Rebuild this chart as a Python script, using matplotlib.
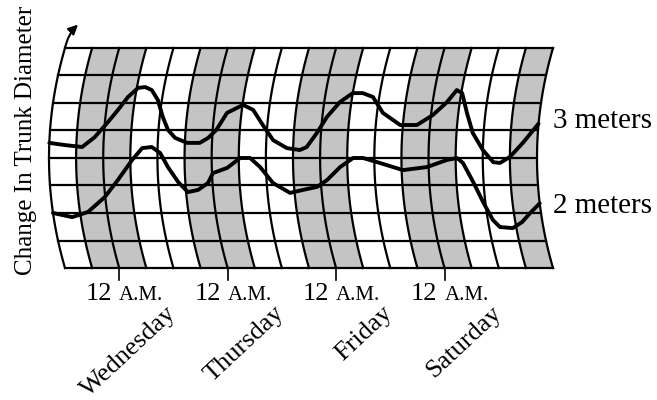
# Tree trunk diameter on a drum recorder chart
import numpy as np
import matplotlib
matplotlib.use('Agg')
import matplotlib.pyplot as plt
import matplotlib.transforms as mtransforms

plt.rcParams['font.family'] = ['Liberation Serif', 'DejaVu Serif']

# %%
# Data: hours since noon Tuesday, trunk trace in chart rows (0 = bottom row line)
hours_upper = [0, 3.5, 7.3, 10.0, 12.5, 14.6, 16.4, 18.3, 19.8, 21.4,
               23.1, 24.7, 26.1, 27.8, 30.5, 33.3, 35.1, 36.8, 38.8, 42.1,
               44.5, 47.0, 49.5, 52.6, 55.5, 57.0, 59.1, 61.0, 63.5, 66.0,
               68.2, 70.6, 73.3, 77.4, 81.1, 84.4, 87.2, 88.9, 90.2, 91.9,
               93.6, 96.0, 98.3, 99.8, 102.0, 104.8, 108.0]
diam_upper = [4.55, 4.47, 4.40, 4.76, 5.27, 5.75, 6.22, 6.55, 6.58, 6.47,
              6.11, 5.49, 5.02, 4.73, 4.55, 4.55, 4.73, 5.02, 5.64, 5.93,
              5.75, 5.20, 4.65, 4.36, 4.29, 4.40, 4.91, 5.49, 6.04, 6.36,
              6.36, 6.22, 5.64, 5.20, 5.20, 5.56, 6.04, 6.47, 6.36, 5.64,
              4.91, 4.29, 3.85, 3.82, 4.04, 4.55, 5.25]

hours_lower = [0, 4.1, 7.8, 11.9, 15.1, 18.4, 20.6, 22.7, 24.6, 26.3,
               28.4, 30.4, 32.7, 35.0, 36.2, 39.4, 42.3, 44.5, 46.7, 49.4,
               53.0, 55.9, 59.1, 61.4, 64.4, 67.3, 69.5, 73.2, 78.3, 83.6,
               88.1, 90.3, 91.6, 93.7, 95.5, 97.1, 98.4, 101.2, 103.5, 105.6,
               108.0]
diam_lower = [2.00, 1.85, 2.04, 2.58, 3.20, 3.93, 4.36, 4.40, 4.18, 3.67,
              3.13, 2.76, 2.84, 3.09, 3.45, 3.64, 4.00, 4.00, 3.67, 3.09,
              2.73, 2.84, 2.95, 3.20, 3.67, 4.00, 4.00, 3.82, 3.56, 3.67,
              3.93, 4.00, 3.82, 3.13, 2.40, 1.75, 1.49, 1.45, 1.67, 2.00,
              2.35]

days = ['Wednesday', 'Thursday', 'Friday', 'Saturday']
midnight_hours = [12, 36, 60, 84]
night_start = [6, 30, 54, 78, 102]
night_end = [18, 42, 66, 90, 108]
series_labels = ['3 meters', '2 meters']

grid_hours = np.arange(0, 109, 6)
grid_rows = np.arange(0, 9)
total_hours = 108
n_rows = 8

BOW = 3.54  # how far the drum bulges left at mid height (hours)


class DrumWarp(mtransforms.Transform):
    """bend the time axis so columns look like they sit on a drum"""
    input_dims = 2
    output_dims = 2

    def transform_non_affine(self, values):
        values = np.asarray(values, dtype=float)
        t = values[:, 0]
        v = values[:, 1]
        half = n_rows / 2
        return np.column_stack([t - BOW * (1 - ((v - half) / half) ** 2), v])


# %%
fig = plt.figure(figsize=(6.57, 4.0), dpi=100)
ax = fig.add_axes([65 / 657, 132 / 400, 488 / 657, 220 / 400])
ax.set_xlim(0, total_hours)
ax.set_ylim(0, n_rows)
ax.axis('off')
drum = DrumWarp() + ax.transData

vv = np.linspace(0, n_rows, 60)

# night shading
for s, e in zip(night_start, night_end):
    ax.fill(np.r_[np.full_like(vv, s), np.full_like(vv, e)],
            np.r_[vv, vv[::-1]], transform=drum, color='#c4c4c4', lw=0,
            clip_on=False, zorder=1)

# grid
for h in grid_hours:
    ax.plot(np.full_like(vv, h), vv, transform=drum, color='black', lw=1.6,
            clip_on=False, zorder=2)
for r in grid_rows:
    ax.plot([0, total_hours], [r, r], transform=drum, color='black', lw=1.6,
            clip_on=False, zorder=2)

# arrow on top of the left edge
ax.annotate('', xy=(1.2, 8.85), xytext=(0, 8.0), xycoords=drum, textcoords=drum,
            annotation_clip=False,
            arrowprops=dict(arrowstyle='-|>', color='black', lw=1.5,
                            mutation_scale=14, shrinkA=0, shrinkB=0,
                            connectionstyle='arc3,rad=-0.15'))

# the two traces
ax.plot(hours_upper, diam_upper, transform=drum, color='black', lw=2.8,
        solid_joinstyle='round', solid_capstyle='round', clip_on=False, zorder=4)
ax.plot(hours_lower, diam_lower, transform=drum, color='black', lw=2.8,
        solid_joinstyle='round', solid_capstyle='round', clip_on=False, zorder=4)

# midnight ticks and labels
for h, day in zip(midnight_hours, days):
    ax.plot([h, h], [0, -0.42], color='black', lw=1.2, clip_on=False)
    ax.annotate('12', xy=(h, -1.16), xytext=(-5, 0), textcoords='offset points',
                ha='right', va='baseline', fontsize=19, annotation_clip=False)
    ax.annotate('A.M.', xy=(h, -1.16), xytext=(0, 0), textcoords='offset points',
                ha='left', va='baseline', fontsize=15, annotation_clip=False)
    ax.text(h + 13.5, -1.24, day, rotation=43, ha='right', va='top', fontsize=19)

# series labels on the right
ax.text(total_hours, 5.09, series_labels[0], ha='left', va='baseline', fontsize=21)
ax.text(total_hours, 2.0, series_labels[1], ha='left', va='baseline', fontsize=21)

ax.text(-0.080, 0.58, 'Change In Trunk Diameter', transform=ax.transAxes,
        rotation=90, ha='center', va='center', fontsize=18)

fig.savefig('out.png', dpi=100)
